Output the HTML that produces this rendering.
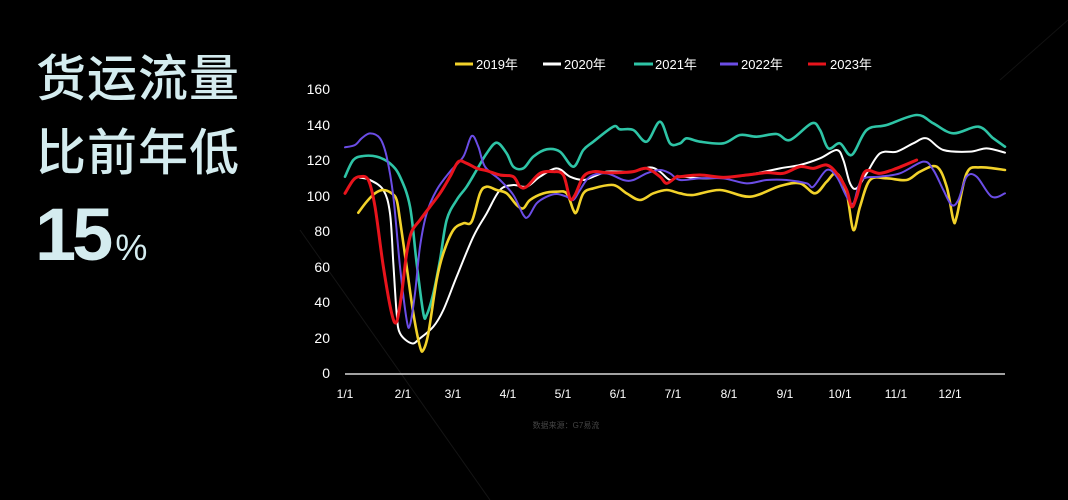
<!DOCTYPE html>
<html><head><meta charset="utf-8"><style>
html,body{margin:0;padding:0;background:#000;}
body{width:1068px;height:500px;overflow:hidden;position:relative;font-family:"Liberation Sans","Noto Sans CJK SC",sans-serif;}
.t{position:absolute;left:36px;color:#d4ecef;font-family:"Noto Sans CJK SC","WenQuanYi Zen Hei",sans-serif;font-size:50px;font-weight:500;letter-spacing:1px;line-height:1;}
</style></head><body>
<div class="t" style="top:50px">货运流量</div>
<div class="t" style="top:124px">比前年低</div>
<div style="position:absolute;left:35px;top:198px;color:#d4ecef;font-family:'Liberation Sans',sans-serif;font-weight:bold;font-size:74px;letter-spacing:-4px;line-height:1;">15<span style="font-size:36px;font-weight:normal;letter-spacing:0;margin-left:6px">%</span></div>
<svg id="s" width="1068" height="500" style="position:absolute;left:0;top:0" xmlns="http://www.w3.org/2000/svg">
<line x1="300" y1="230" x2="490" y2="500" stroke="#141414" stroke-width="1"/>
<line x1="1000" y1="80" x2="1068" y2="20" stroke="#121212" stroke-width="1"/>
<line x1="345" y1="374" x2="1005" y2="374" stroke="#d8d8d8" stroke-width="1.5"/>
<g font-size="14" fill="#fff" text-anchor="end" font-family="Liberation Sans,sans-serif">
<text x="330" y="94">160</text><text x="330" y="130">140</text><text x="330" y="165">120</text><text x="330" y="201">100</text><text x="330" y="236">80</text><text x="330" y="272">60</text><text x="330" y="307">40</text><text x="330" y="343">20</text><text x="330" y="378">0</text>
</g>
<g font-size="12" fill="#fff" text-anchor="middle" font-family="Liberation Sans,sans-serif">
<text x="345" y="398">1/1</text><text x="403" y="398">2/1</text><text x="453" y="398">3/1</text><text x="508" y="398">4/1</text><text x="563" y="398">5/1</text><text x="618" y="398">6/1</text><text x="673" y="398">7/1</text><text x="729" y="398">8/1</text><text x="785" y="398">9/1</text><text x="840" y="398">10/1</text><text x="896" y="398">11/1</text><text x="950" y="398">12/1</text>
</g>
<g font-size="13" fill="#fff" font-family="Liberation Sans,Noto Sans CJK SC,sans-serif">
<line x1="455" y1="64" x2="473" y2="64" stroke="#f2d22a" stroke-width="3"/><text x="476" y="69">2019年</text>
<line x1="543" y1="64" x2="561" y2="64" stroke="#fff" stroke-width="3"/><text x="564" y="69">2020年</text>
<line x1="634" y1="64" x2="653" y2="64" stroke="#2ec4a6" stroke-width="3"/><text x="655" y="69">2021年</text>
<line x1="720" y1="64" x2="738" y2="64" stroke="#6b4de6" stroke-width="3"/><text x="741" y="69">2022年</text>
<line x1="808" y1="64" x2="826" y2="64" stroke="#e8141c" stroke-width="3"/><text x="830" y="69">2023年</text>
</g>
<text x="566" y="428" font-size="8" fill="#444" text-anchor="middle" font-family="Liberation Sans,Noto Sans CJK SC,sans-serif">数据来源：G7易流</text>
<g id="g" fill="none" stroke-linejoin="round" stroke-linecap="round"></g>
</svg>
<script>
function L(a){return a.map(p=>[300+p[0]/3,80+p[1]/3]);}
function R(a){return a.map(p=>[680+p[0]/3,80+p[1]/3]);}
function path(pts){
 var d="M"+pts[0][0].toFixed(1)+","+pts[0][1].toFixed(1);
 for(var i=0;i<pts.length-1;i++){
  var p0=pts[i-1]||pts[i],p1=pts[i],p2=pts[i+1],p3=pts[i+2]||p2;
  var c1=[p1[0]+(p2[0]-p0[0])/6,p1[1]+(p2[1]-p0[1])/6],c2=[p2[0]-(p3[0]-p1[0])/6,p2[1]-(p3[1]-p1[1])/6];
  d+=" C"+c1.join(",")+" "+c2.join(",")+" "+p2.join(",");
 }return d;}
function fix(l,r){var a=L(l),b=R(r);var s=b[0][0];a=a.filter(p=>p[0]<s-3);return a.concat(b);}
var S=[
["#2ec4a6",fix([[135,290],[160,240],[190,228],[230,230],[270,250],[300,290],[330,380],[350,550],[370,700],[380,705],[400,640],[420,540],[440,420],[470,360],[500,320],[530,270],[560,220],[590,188],[620,220],[640,260],[670,265],[700,230],[740,208],[780,215],[820,260],[850,210],[880,185],[940,140],[960,148],[1000,150],[1040,185],[1080,125],[1110,190],[1140,172],[1200,185]],
[[0,190],[20,175],[60,185],[130,190],[180,165],[230,170],[290,162],[330,180],[395,130],[420,150],[445,205],[480,190],[515,225],[560,150],[620,135],[710,105],[760,130],[820,160],[895,140],[940,175],[975,200]])],
["#ffffff",fix([[180,293],[210,300],[250,330],[270,400],[280,550],[290,700],[300,760],[335,790],[360,775],[400,740],[430,690],[470,590],[520,470],[560,400],[600,330],[640,315],[680,320],[720,290],[770,265],[810,290],[850,300],[880,290],[920,275],[960,275],[1000,275],[1050,262],[1080,275],[1110,300],[1150,290],[1200,290]],
[[0,290],[80,295],[200,285],[300,265],[360,255],[420,235],[470,210],[490,240],[510,310],[530,325],[560,280],[600,220],[650,215],[700,190],[740,175],[790,210],[870,215],[920,205],[975,218]])],
["#f2d22a",fix([[175,398],[200,365],[225,340],[250,330],[275,340],[290,360],[300,420],[320,560],[340,700],[360,800],[370,810],[385,760],[410,600],[430,520],[460,450],[490,430],[515,425],[540,340],[560,320],[590,330],[620,340],[650,375],[670,385],[690,360],[730,340],[770,335],[800,340],[820,390],[830,395],[850,340],[880,325],[940,315],[980,340],[1020,360],[1060,340],[1100,330],[1150,340],[1200,340]],
[[0,340],[40,345],[120,330],[210,350],[300,318],[360,310],[405,340],[440,305],[470,280],[500,340],[520,450],[540,380],[570,300],[620,295],[680,300],[720,275],[770,260],[800,320],[820,420],[830,410],[860,280],[900,262],[975,270]])],
["#6b4de6",fix([[135,202],[165,195],[185,175],[210,160],[240,175],[260,230],[280,350],[300,560],[320,720],[330,735],[345,640],[360,500],[380,400],[410,330],[450,275],[490,230],[515,168],[535,200],[555,260],[600,300],[640,345],[670,405],[685,410],[710,370],[740,350],[770,342],[800,350],[820,360],[840,330],[870,290],[920,280],[970,300],[1000,300],[1040,280],[1080,270],[1110,280],[1150,295],[1200,300]],
[[0,300],[60,295],[130,295],[200,310],[260,300],[320,300],[380,310],[400,320],[440,270],[470,290],[500,350],[520,370],[545,300],[600,290],[660,280],[730,245],[760,270],[790,330],[815,375],[835,360],[860,290],[890,290],[935,350],[975,340]])],
["#e8141c",fix([[135,340],[160,300],[180,290],[205,300],[225,380],[250,560],[275,700],[290,725],[305,640],[320,520],[335,455],[360,420],[390,380],[420,340],[450,290],[475,245],[500,250],[530,265],[560,272],[600,285],[640,290],[660,320],[680,320],[720,280],[760,275],[790,285],[810,355],[825,345],[850,290],[880,275],[920,278],[960,278],[1000,275],[1040,265],[1080,290],[1100,310],[1130,290],[1200,285]],
[[0,290],[60,285],[130,292],[200,285],[260,278],[310,280],[360,260],[400,265],[440,255],[470,280],[500,330],[515,380],[530,350],[555,275],[600,280],[650,265],[710,240]])]
];
var g=document.getElementById("g"),h="";
S.forEach(function(s){h+='<path d="'+path(s[1])+'" stroke="'+s[0]+'" stroke-width="'+(s[0]=="#e8141c"?3:(s[0]=="#ffffff"||s[0]=="#6b4de6"?2:2.6))+'"/>';});
g.innerHTML=h;
</script>
</body></html>
